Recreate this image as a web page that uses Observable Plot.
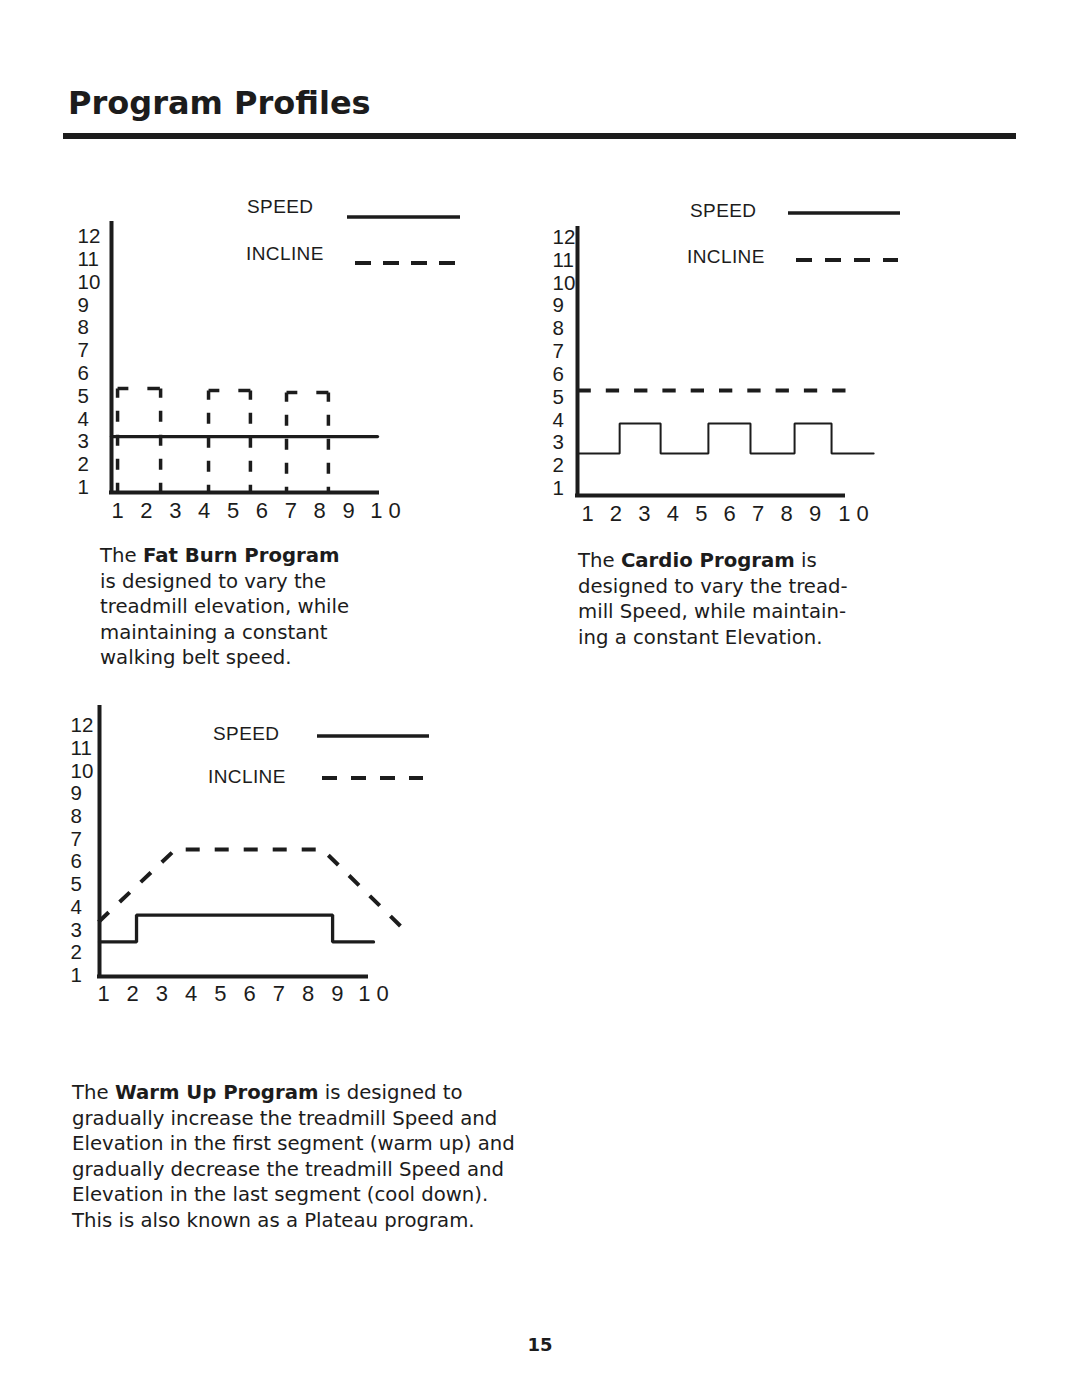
<!DOCTYPE html>
<html><head><meta charset="utf-8">
<script src="https://cdn.jsdelivr.net/npm/d3@7"></script>
<script src="https://cdn.jsdelivr.net/npm/@observablehq/plot@0.6"></script>
<style>
html,body{margin:0;padding:0;background:#fff;}
body{width:1080px;height:1397px;position:relative;overflow:hidden;font-family:"DejaVu Sans",Verdana,sans-serif;color:#1c1c1c;}
.abs{position:absolute;}
.title{left:68px;top:83px;font-weight:bold;font-size:32px;line-height:40px;white-space:nowrap;}
.rule{left:63px;top:133px;width:953px;height:6px;background:#1c1c1c;}
.para{font-size:19.7px;line-height:25.5px;white-space:nowrap;}
.leg{font-family:"Liberation Sans",Arial,sans-serif;font-size:19px;letter-spacing:0.4px;line-height:24px;white-space:nowrap;}
.pg{left:0;width:1080px;text-align:center;top:1333px;font-weight:bold;font-size:18px;line-height:24px;}
svg.legline{position:absolute;overflow:visible;}
</style>
</head><body>
<div class="abs title">Program Profiles</div>
<div class="abs rule"></div>

<div class="abs para" style="left:100px;top:543px;">The <b>Fat Burn Program</b><br>is designed to vary the<br>treadmill elevation, while<br>maintaining a constant<br>walking belt speed.</div>
<div class="abs para" style="left:578px;top:548px;">The <b>Cardio Program</b> is<br>designed to vary the tread-<br>mill Speed, while maintain-<br>ing a constant Elevation.</div>
<div class="abs para" style="left:72px;top:1080px;">The <b>Warm Up Program</b> is designed to<br>gradually increase the treadmill Speed and<br>Elevation in the first segment (warm up) and<br>gradually decrease the treadmill Speed and<br>Elevation in the last segment (cool down).<br>This is also known as a Plateau program.</div>
<div class="abs pg">15</div>

<script>
// ---------- data ----------
const yTicks = [1,2,3,4,5,6,7,8,9,10,11,12];
const xTicks = [1,2,3,4,5,6,7,8,9];
const xLastTick = [10];
const lastTickLabel = "1 0";
const legendSpeed = "SPEED";
const legendIncline = "INCLINE";

// Fat Burn: constant speed, incline pulses
const fatSpeedX = [0.79, 10];
const fatSpeedY = [3.23, 3.23];
const fatPulseStart = [1.0, 4.15, 6.85];
const fatPulseEnd   = [2.49, 5.6, 8.3];
const fatPulseTop   = [5.34, 5.25, 5.16];
const fatPulseBase  = 0.78;

// Cardio: speed steps, constant incline
const cardioSpeedX = [0.648, 2.13, 3.57, 5.25, 6.73, 8.28, 9.58, 11.06];
const cardioSpeedY = [2.53, 3.85, 2.53, 3.85, 2.53, 3.85, 2.53, 2.53];
const cardioInclineX = [0.648, 10.1];
const cardioInclineY = [5.29, 5.29];

// Warm Up: speed plateau, incline trapezoid
const warmSpeedX = [0.863, 2.13, 8.84, 10.24];
const warmSpeedY = [2.48, 3.66, 2.48, 2.48];
const warmInclineX = [0.83, 3.46, 8.49, 11.44];
const warmInclineY = [3.36, 6.55, 6.55, 2.83];

// ---------- helpers ----------
const INK = "#1c1c1c";
const pts = (xs, ys, z = 0) => xs.map((x, i) => ({x, y: ys[i], z}));

function chart(c) {
  const inclineMarks = c.inclineSets.map(s =>
    Plot.line(s.data, {x: "x", y: "y", z: "z", stroke: INK, strokeWidth: c.incW, strokeDasharray: s.dash, strokeDashoffset: s.off || 0, strokeLinecap: "butt", strokeLinejoin: "miter"}));
  const plot = Plot.plot({
    width: c.width, height: c.height,
    marginLeft: c.ml, marginRight: c.mr, marginTop: c.mt, marginBottom: c.mb,
    x: {domain: c.xDomain, label: null},
    y: {domain: c.yDomain, label: null},
    style: {fontFamily: "'Liberation Sans', Arial, sans-serif", fontSize: "21px", color: INK, background: "transparent", overflow: "visible"},
    marks: [
      Plot.axisY(yTicks, {tickSize: 0, tickPadding: c.yPad, textAnchor: "start", label: null, fontSize: 20.5, fill: INK}),
      Plot.axisX(xTicks, {tickSize: 0, tickPadding: c.xPad, label: null, fontSize: 22, fill: INK}),
      Plot.axisX(xLastTick, {tickSize: 0, tickPadding: c.xPad, label: null, fontSize: 22, fill: INK, dx: c.dx10, tickFormat: () => lastTickLabel}),
      ...inclineMarks,
      Plot.line(c.speed, {x: "x", y: "y", stroke: INK, strokeWidth: c.spdW, curve: c.curve || "linear", strokeLinejoin: "miter"}),
      Plot.ruleX([c.xDomain[0]], {stroke: INK, strokeWidth: 4, strokeLinecap: "square"}),
      Plot.ruleY([c.yDomain[0]], {stroke: INK, strokeWidth: 4, strokeLinecap: "square"})
    ]
  });
  const wrap = document.createElement("div");
  wrap.className = "abs";
  wrap.style.left = c.left + "px";
  wrap.style.top = c.top + "px";
  wrap.appendChild(plot);
  document.body.appendChild(wrap);

  // legend
  const L = c.legend;
  const addText = (txt, x, cy) => {
    const d = document.createElement("div");
    d.className = "abs leg";
    d.style.left = x + "px";
    d.style.top = (cy - 12) + "px";
    d.textContent = txt;
    document.body.appendChild(d);
  };
  const addLine = (x1, x2, y, w, dash) => {
    const ns = "http://www.w3.org/2000/svg";
    const s = document.createElementNS(ns, "svg");
    s.setAttribute("class", "legline");
    s.setAttribute("width", x2 - x1);
    s.setAttribute("height", 10);
    s.style.left = x1 + "px";
    s.style.top = (y - 5) + "px";
    const l = document.createElementNS(ns, "line");
    l.setAttribute("x1", 0); l.setAttribute("x2", x2 - x1);
    l.setAttribute("y1", 5); l.setAttribute("y2", 5);
    l.setAttribute("stroke", INK); l.setAttribute("stroke-width", w);
    if (dash) l.setAttribute("stroke-dasharray", dash);
    s.appendChild(l);
    document.body.appendChild(s);
  };
  addText(legendSpeed, L.sx, L.sy);
  addLine(L.slx1, L.slx2, L.sly, 3.5);
  addText(legendIncline, L.ix, L.iy);
  addLine(L.ilx1, L.ilx2, L.ily, 4, L.dash);
}

// Fat burn pulses: legs drawn from the top corner down, tops drawn left to right
const fatLegs = fatPulseStart.flatMap((s, i) => [
  {x: s, y: fatPulseTop[i], z: "L" + i}, {x: s, y: fatPulseBase, z: "L" + i},
  {x: fatPulseEnd[i], y: fatPulseTop[i], z: "R" + i}, {x: fatPulseEnd[i], y: fatPulseBase, z: "R" + i}
]);
const fatTops = fatPulseStart.flatMap((s, i) => [
  {x: s, y: fatPulseTop[i], z: "T" + i}, {x: fatPulseEnd[i], y: fatPulseTop[i], z: "T" + i}
]);

chart({
  left: 60, top: 200, width: 420, height: 330, ml: 51, mr: 103, mt: 23, mb: 38,
  xDomain: [0.79, 10], yDomain: [0.78, 12.57], yPad: 34, xPad: 10, dx10: 8,
  speed: pts(fatSpeedX, fatSpeedY), spdW: 3.3,
  inclineSets: [
    {data: fatLegs, dash: "11,13", off: 1.7},
    {data: fatTops, dash: "12.5,19", off: 1.7}
  ], incW: 3.5,
  legend: {sx: 247, sy: 207, slx1: 347, slx2: 460, sly: 217, ix: 246, iy: 254, ilx1: 355, ilx2: 457, ily: 263, dash: "16,12"}
});

chart({
  left: 540, top: 200, width: 380, height: 330, ml: 37, mr: 77, mt: 28, mb: 35,
  xDomain: [0.648, 10], yDomain: [0.69, 12.39], yPad: 25, xPad: 10, dx10: 10,
  speed: pts(cardioSpeedX, cardioSpeedY), spdW: 2, curve: "step-after",
  inclineSets: [{data: pts(cardioInclineX, cardioInclineY), dash: "13.3,15"}], incW: 4,
  legend: {sx: 690, sy: 211, slx1: 788, slx2: 900, sly: 213, ix: 687, iy: 257, ilx1: 796, ilx2: 898, ily: 260, dash: "16,13"}
});

chart({
  left: 60, top: 700, width: 380, height: 320, ml: 39, mr: 74, mt: 7, mb: 44,
  xDomain: [0.863, 10], yDomain: [0.96, 12.79], yPad: 29, xPad: 9, dx10: 7,
  speed: pts(warmSpeedX, warmSpeedY), spdW: 3.3, curve: "step-after",
  inclineSets: [{data: pts(warmInclineX, warmInclineY), dash: "14,15"}], incW: 4,
  legend: {sx: 213, sy: 734, slx1: 317, slx2: 429, sly: 736, ix: 208, iy: 777, ilx1: 322, ilx2: 423, ily: 778, dash: "15,14"}
});
</script>
</body></html>
